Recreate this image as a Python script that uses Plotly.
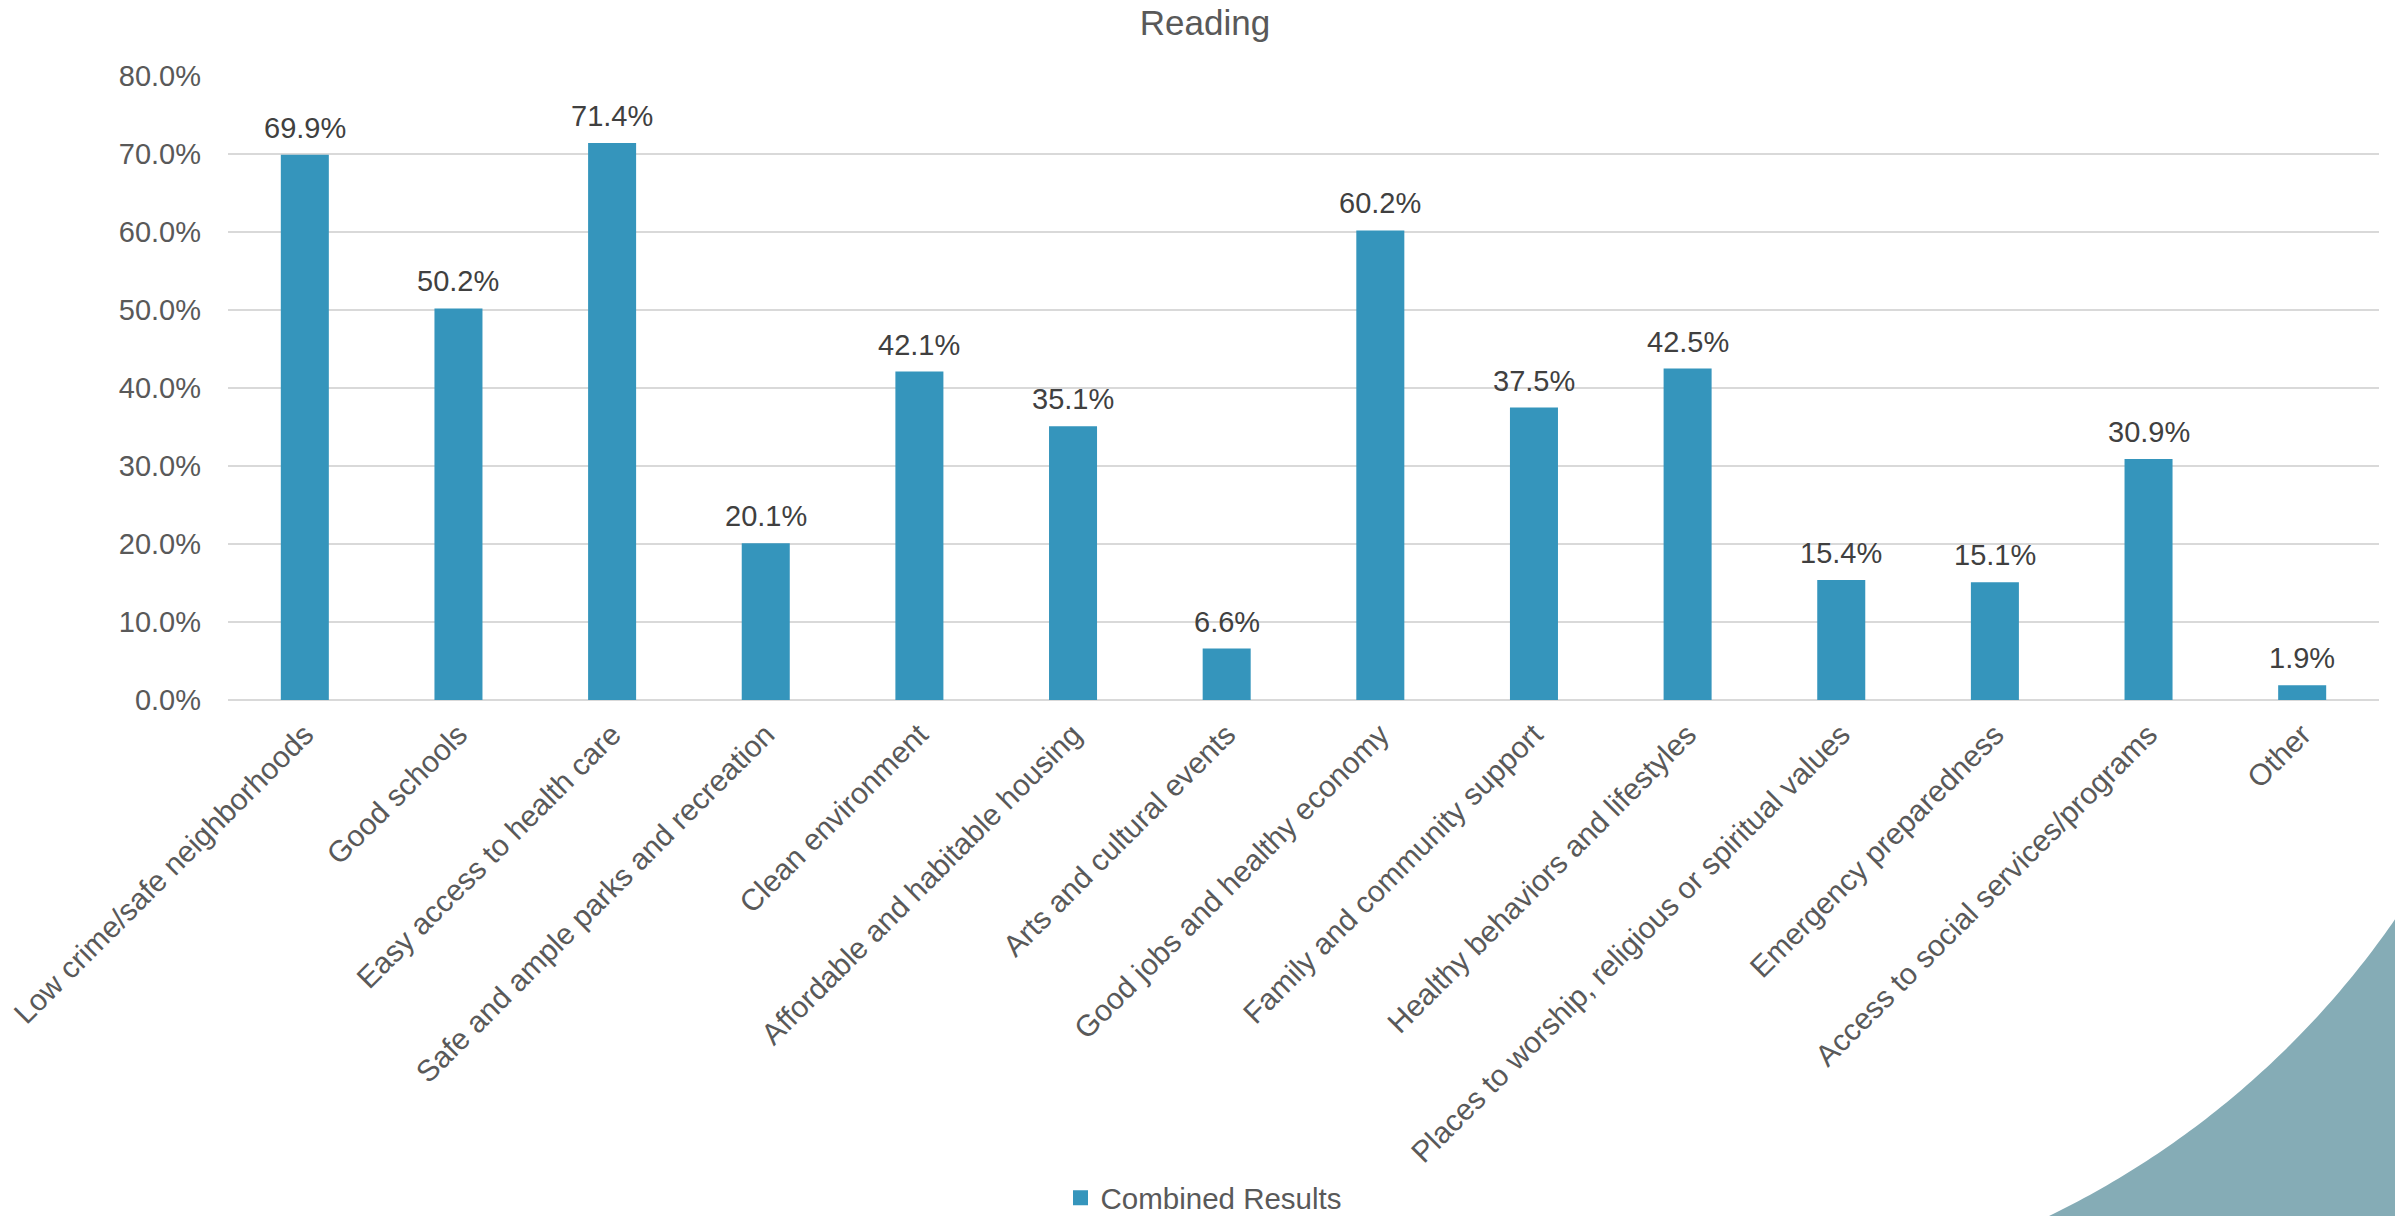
import numpy as np
import plotly.graph_objects as go

categories = [
    "Low crime/safe neighborhoods",
    "Good schools",
    "Easy access to health care",
    "Safe and ample parks and recreation",
    "Clean environment",
    "Affordable and habitable housing",
    "Arts and cultural events",
    "Good jobs and healthy economy",
    "Family and community support",
    "Healthy behaviors and lifestyles",
    "Places to worship, religious or spiritual values",
    "Emergency preparedness",
    "Access to social services/programs",
    "Other",
]
combined_results = [0.699, 0.502, 0.714, 0.201, 0.421, 0.351, 0.066,
                    0.602, 0.375, 0.425, 0.154, 0.151, 0.309, 0.019]
y_ticks = [0, 0.1, 0.2, 0.3, 0.4, 0.5, 0.6, 0.7, 0.8]

W, H = 2395, 1216
ML, MR, MT, MB = 228, 16, 76, 516
PW, PH = W - ML - MR, H - MT - MB

FONT = "Liberation Sans, Arial, sans-serif"
BAR = "#3595BC"
GRAY = "#595959"

fig = go.Figure()
fig.add_trace(go.Bar(
    x=categories, y=combined_results, name="Combined Results",
    marker=dict(color=BAR, line=dict(width=0)),
    showlegend=False, hoverinfo="x+y",
))
# legend entry with a larger square swatch
fig.add_trace(go.Scatter(
    x=[None], y=[None], mode="markers", name="Combined Results",
    marker=dict(symbol="square", size=15, color=BAR), showlegend=True,
))

# data labels
for c, v in zip(categories, combined_results):
    fig.add_annotation(x=c, y=v, xref="x", yref="y", text=f"{v*100:.1f}%",
                       showarrow=False, yanchor="middle", yshift=27,
                       font=dict(family=FONT, size=29, color="#404040"))

# decorative corner arc (pixel geometry -> paper coords)
cx, cy, r = 1659.0, 411.0, 894.5
th = np.linspace(1.157, 0.573, 80)
px = cx + r * np.cos(th)
py = cy + r * np.sin(th)
def tx(v): return (v - ML) / PW
def ty(v): return (H - MB - v) / PH
pts = [f"{tx(a):.5f},{ty(b):.5f}" for a, b in zip(px, py)]
path = "M " + " L ".join(pts) + f" L {tx(2420):.5f},{ty(880):.5f} L {tx(2420):.5f},{ty(1240):.5f} L {tx(2000):.5f},{ty(1240):.5f} Z"
fig.add_shape(type="path", path=path, xref="paper", yref="paper",
              fillcolor="#85ACB6", line=dict(width=0), layer="below")

fig.update_layout(
    width=W, height=H,
    margin=dict(l=ML, r=MR, t=MT, b=MB, autoexpand=False),
    paper_bgcolor="white", plot_bgcolor="white",
    title=dict(text="Reading", x=1205 / W, xref="container", xanchor="center",
               y=1 - 23 / H, yref="container", yanchor="middle",
               font=dict(family=FONT, size=35, color=GRAY)),
    font=dict(family=FONT, size=29, color=GRAY),
    bargap=0.6875,
    showlegend=True,
    legend=dict(orientation="h", x=(1204 - ML) / PW, xanchor="center",
                y=ty(1198), yanchor="middle",
                font=dict(family=FONT, size=29.5, color=GRAY),
                itemwidth=30, bgcolor="rgba(0,0,0,0)"),
    xaxis=dict(tickangle=-45, tickfont=dict(family=FONT, size=30, color=GRAY),
               showgrid=False, showline=False, ticks="", automargin=False,
               ticklabelstandoff=10),
    yaxis=dict(range=[0, 0.8], tickvals=y_ticks, tickformat=".1%",
               tickfont=dict(family=FONT, size=29, color=GRAY),
               gridcolor="#D9D9D9", gridwidth=2, zeroline=True,
               zerolinecolor="#D9D9D9", zerolinewidth=2, showline=False,
               ticks="", ticklabelstandoff=26, automargin=False),
)

fig.write_html("out.html", config={"displayModeBar": False},
               post_script="document.body.style.margin='0';document.body.style.overflow='hidden';")
